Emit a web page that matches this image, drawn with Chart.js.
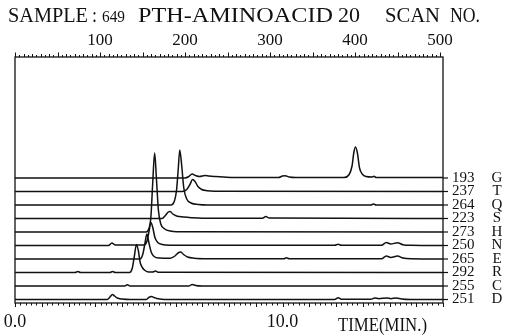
<!DOCTYPE html>
<html>
<head>
<meta charset="utf-8">
<script src="https://cdn.jsdelivr.net/npm/chart.js@4.4.0/dist/chart.umd.min.js"></script>
<style>
  body { margin: 0; background: #fff; }
  canvas { display: block; }
</style>
</head>
<body>
<canvas id="chromChart" width="513" height="336"></canvas>
<script>
// tick labels
var timeTicks = [0, 10];
var timeLabels = ['0.0', '10.0'];
var scanTicks = [100, 200, 300, 400, 500];

// traces from top to bottom
var traceLetters = ['G', 'T', 'Q', 'S', 'H', 'N', 'E', 'R', 'C', 'D'];
var traceCounts = ['193', '237', '264', '223', '273', '250', '265', '292', '255', '251'];

// [time (min), signal above own baseline]
var traceG = [[0,0],[6.35,0],[6.5,1.5],[6.62,4],[6.75,2.5],[6.9,1.5],[7.1,2.5],[7.25,2],[7.5,1.5],[7.8,1],[8.2,0.5],[9.85,0.5],[10.0,2],[10.1,2.3],[10.25,1],[10.5,0.5],[12.3,0.5],[12.48,3],[12.6,12],[12.67,26],[12.73,31],[12.8,25],[12.88,10],[12.98,4],[13.12,1.5],[13.35,1],[13.42,1.8],[13.5,0.5],[16,0.5]];
var traceT = [[0,0],[6.25,0],[6.42,2],[6.54,7],[6.64,12],[6.73,10],[6.84,5],[6.98,2],[7.18,0.8],[7.45,0.3],[16,0]];
var traceQ = [[0,0],[5.82,0],[5.96,4],[6.04,15],[6.1,35],[6.16,55],[6.23,40],[6.31,17],[6.42,6],[6.58,2],[6.85,0.5],[7.2,0],[13.3,0],[13.4,1],[13.5,0],[16,0]];
var traceS = [[0,0],[5.5,0],[5.62,3],[5.73,6.5],[5.8,7],[5.9,4.5],[6.04,2.5],[6.3,1.5],[6.6,0.8],[7.0,0.3],[9.25,0.3],[9.38,2],[9.5,0.5],[16,0]];
var traceH = [[0,0],[4.9,0],[5.0,3],[5.08,15],[5.15,50],[5.22,79],[5.29,52],[5.36,22],[5.45,8],[5.6,3],[5.8,1],[6.05,0.3],[16,0]];
var traceN = [[0,0],[3.5,0],[3.62,2.5],[3.75,0.5],[4.82,0.5],[4.93,4],[5.01,14],[5.08,23],[5.15,18],[5.23,8],[5.34,3],[5.5,1],[5.8,0.3],[11.95,0.3],[12.08,1.2],[12.2,0.3],[13.7,0.3],[13.88,3],[14.05,1.5],[14.3,2.8],[14.5,0.8],[14.8,0.2],[16,0]];
var traceE = [[0,0],[4.67,0],[4.78,5],[4.86,16],[4.93,25],[5.0,17],[5.09,7],[5.2,2.5],[5.4,1],[5.8,0.8],[5.98,3],[6.12,6.5],[6.2,7],[6.3,4.5],[6.45,2],[6.7,0.8],[7.2,0.3],[10.05,0.3],[10.15,1.2],[10.25,0.3],[13.7,0.3],[13.88,3],[14.05,1.5],[14.3,3],[14.5,1],[14.8,0.2],[16,0]];
var traceR = [[0,0],[2.25,0],[2.35,1],[2.45,0],[3.55,0],[3.65,1],[3.75,0],[4.28,0],[4.38,4],[4.46,16],[4.54,28],[4.61,22],[4.68,10],[4.76,5],[4.86,2],[5.0,0.5],[5.15,0.5],[5.25,1.5],[5.35,0.3],[16,0]];
var traceC = [[0,0],[4.1,0],[4.2,1.3],[4.3,0],[6.5,0],[6.62,1.5],[6.75,0.5],[7.0,0],[16,0]];
var traceD = [[0,0],[3.45,0],[3.55,2.5],[3.64,5],[3.72,3.5],[3.82,1.5],[4.0,0.5],[4.3,0],[4.9,0],[5.0,2],[5.1,3],[5.2,2],[5.35,0.7],[5.6,0],[11.95,0],[12.08,1.8],[12.2,0.3],[13.3,0.3],[13.45,1.5],[13.6,0.8],[13.9,1.5],[14.05,0.8],[14.25,1.5],[14.45,0.5],[14.8,0],[16,0]];

var traces = [traceG, traceT, traceQ, traceS, traceH, traceN, traceE, traceR, traceC, traceD];

var SERIF = '"Liberation Serif", "Times New Roman", serif';

// stack the traces, bottom one sits just above the axis
function baseline(i) {
    return 3.5 + (traces.length - 1 - i) * 13.5;
}

var datasets = traces.map(function(pts, i) {
    return {
        data: pts.map(function(p) { return {x: p[0], y: p[1] + baseline(i)}; }),
        borderColor: '#111',
        borderWidth: 1.5,
        pointRadius: 0,
        cubicInterpolationMode: 'monotone',
        fill: false
    };
});

// draw text squeezed/stretched into [x0, x1]
function drawFit(ctx, text, x0, x1, y, size) {
    ctx.font = size + 'px ' + SERIF;
    var w = ctx.measureText(text).width;
    ctx.save();
    ctx.translate(x0, y);
    ctx.scale((x1 - x0) / w, 1);
    ctx.textAlign = 'left';
    ctx.textBaseline = 'middle';
    ctx.fillText(text, 0, 0);
    ctx.restore();
}

var decor = {
    id: 'decor',
    afterDraw: function(chart) {
        var ctx = chart.ctx;
        var a = chart.chartArea;
        var xs = chart.scales.x, ss = chart.scales.scan, ys = chart.scales.y;
        ctx.save();
        ctx.strokeStyle = '#111';
        ctx.fillStyle = '#111';
        ctx.lineWidth = 1.3;
        ctx.strokeRect(a.left, a.top, a.right - a.left, a.bottom - a.top);

        // bottom time ticks
        ctx.lineWidth = 1;
        ctx.beginPath();
        for (var k = 0; k <= 80; k++) {
            var px = Math.round(xs.getPixelForValue(k * 0.2)) + 0.5;
            if (px > a.right + 1) break;
            var len = k % 5 === 0 ? 4 : 2.5;
            ctx.moveTo(px, a.bottom);
            ctx.lineTo(px, a.bottom + len);
        }
        // top scan ticks
        for (var n = 0; n <= 500; n += 5) {
            var qx = Math.round(ss.getPixelForValue(n)) + 0.5;
            var l2 = n % 50 === 0 ? 4.5 : (n % 10 === 0 ? 3 : 2);
            ctx.moveTo(qx, a.top);
            ctx.lineTo(qx, a.top - l2);
        }
        ctx.stroke();

        // scan labels
        ctx.font = '17px ' + SERIF;
        ctx.textAlign = 'center';
        ctx.textBaseline = 'middle';
        scanTicks.forEach(function(v) {
            ctx.fillText(String(v), ss.getPixelForValue(v), 41);
        });

        // time labels
        ctx.font = '18px ' + SERIF;
        timeTicks.forEach(function(v, i) {
            ctx.fillText(timeLabels[i], xs.getPixelForValue(v), 322);
        });
        drawFit(ctx, 'TIME(MIN.)', 338, 427, 326, 18);

        // trace labels on the right
        ctx.lineWidth = 1.2;
        traces.forEach(function(pts, i) {
            var py = ys.getPixelForValue(baseline(i));
            ctx.beginPath();
            ctx.moveTo(a.right, py);
            ctx.lineTo(a.right + 5, py);
            ctx.stroke();
            ctx.font = '15px ' + SERIF;
            ctx.textAlign = 'left';
            ctx.fillText(traceCounts[i], a.right + 9, py);
            ctx.textAlign = 'center';
            ctx.fillText(traceLetters[i], a.right + 54, py);
        });

        // title
        drawFit(ctx, 'SAMPLE', 8, 88, 17, 20);
        drawFit(ctx, ':', 92, 97, 17, 20);
        drawFit(ctx, '649', 102, 125, 18, 16);
        drawFit(ctx, 'PTH-AMINOACID', 138, 333, 17, 20);
        drawFit(ctx, '20', 338, 360, 17, 20);
        drawFit(ctx, 'SCAN', 385, 440, 17, 20);
        drawFit(ctx, 'NO.', 450, 480, 17, 20);
        ctx.restore();
    }
};

var ctx = document.getElementById('chromChart').getContext('2d');
var chart = new Chart(ctx, {
    type: 'line',
    data: { datasets: datasets },
    options: {
        responsive: false,
        animation: false,
        layout: { padding: { left: 15, right: 70, top: 57, bottom: 33 } },
        plugins: { legend: { display: false }, tooltip: { enabled: false } },
        scales: {
            x: { type: 'linear', min: 0, max: 16, display: false },
            scan: { type: 'linear', axis: 'x', position: 'top', min: 0, max: 503.5, display: false },
            y: { type: 'linear', min: 0, max: 246, display: false }
        }
    },
    plugins: [decor]
});
</script>
</body>
</html>
